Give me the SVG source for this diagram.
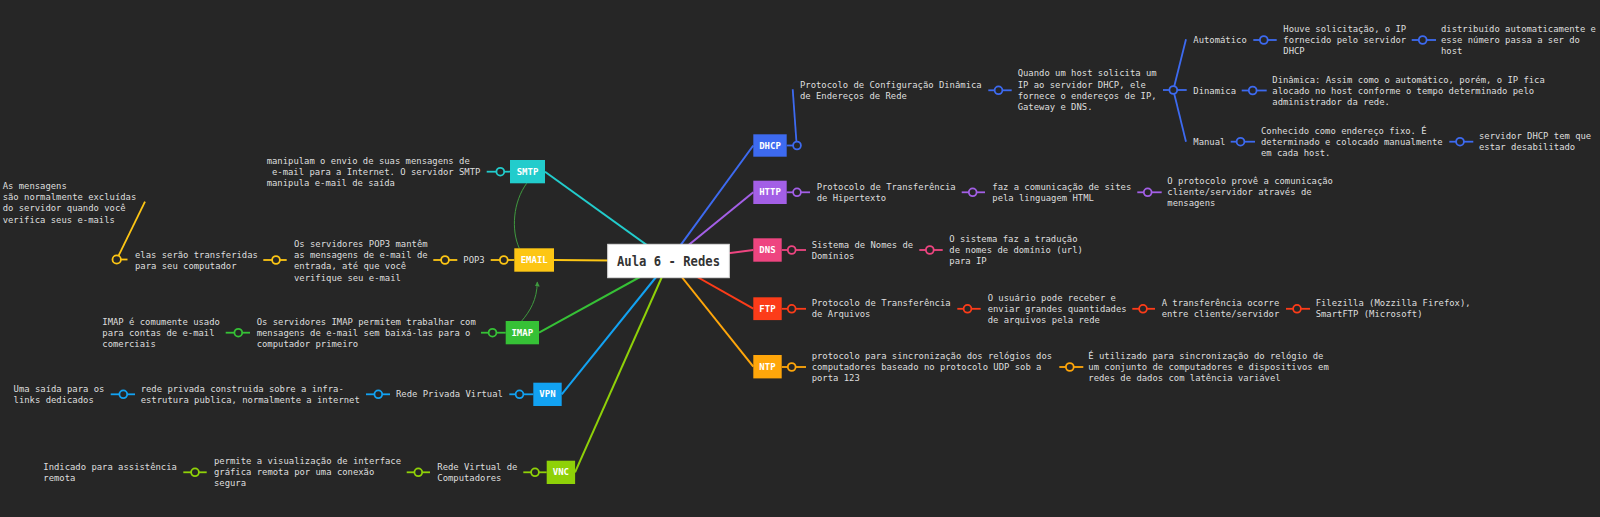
<svg xmlns="http://www.w3.org/2000/svg" width="1600" height="517" viewBox="0 0 1600 517">
<defs>
<style>
.t{font-family:"DejaVu Sans Mono","Liberation Mono",monospace;font-size:8.9px;fill:#dedede;dominant-baseline:central}
.b{font-family:"DejaVu Sans Mono","Liberation Mono",monospace;font-size:9px;font-weight:bold;fill:#ffffff;text-anchor:middle;dominant-baseline:central}
.m{stroke-width:2;fill:none}
.k line{stroke-width:1.8}
.k circle{fill:#262626;stroke-width:1.8}
.rel{stroke:#3f9a3f;stroke-width:1;fill:none}
.blue{stroke:#3d6af0}.purple{stroke:#a35fe6}.pink{stroke:#ee4580}.red{stroke:#fc3c19}.orange{stroke:#ffa60a}
.teal{stroke:#22cccc}.yellow{stroke:#fdc614}.green{stroke:#36c136}.sky{stroke:#12a2f2}.lime{stroke:#8fd108}
</style>
<marker id="arr" viewBox="0 0 10 10" refX="9" refY="5" markerWidth="5" markerHeight="5" orient="auto">
<path d="M0,0 L10,5 L0,10 z" fill="#3f9a3f"/>
</marker>
</defs>
<rect x="0" y="0" width="1600" height="517" fill="#262626"/>

<g id="connectors">
<line class="m blue" x1="669" y1="261" x2="753.3" y2="145.5"/>
<line class="m purple" x1="669" y1="261" x2="753.3" y2="192.3"/>
<line class="m pink" x1="669" y1="261" x2="753.3" y2="250"/>
<line class="m red" x1="669" y1="261" x2="753.3" y2="308.7"/>
<line class="m orange" x1="669" y1="261" x2="753.3" y2="366.7"/>
<line class="m teal" x1="669" y1="261" x2="545" y2="171.7"/>
<line class="m yellow" x1="669" y1="261" x2="554" y2="260"/>
<line class="m green" x1="669" y1="261" x2="539" y2="332.7"/>
<line class="m sky" x1="669" y1="261" x2="561.7" y2="394.3"/>
<line class="m lime" x1="669" y1="261" x2="575" y2="472.3"/>
<path class="rel" d="M526.7,183.3 C513,202 511,230 519.3,248.3"/>
<path class="rel" d="M521.7,321 C530,311 537,300 537.3,282" marker-end="url(#arr)"/>

<g class="k blue">
<line x1="786.7" y1="145.5" x2="796.7" y2="145.5"/>
<line x1="796.7" y1="145.5" x2="792.7" y2="89.3"/>
<circle cx="797" cy="145.5" r="3.9"/>
<line x1="988.3" y1="90.3" x2="1011.7" y2="90.3"/><circle cx="998.5" cy="90.3" r="3.9"/>
<line x1="1163" y1="90" x2="1186.7" y2="90"/>
<line x1="1173.3" y1="90" x2="1186" y2="39.3"/>
<line x1="1173.3" y1="90" x2="1186" y2="141.7"/>
<circle cx="1173.3" cy="90" r="3.9"/>
<line x1="1253.3" y1="40" x2="1276.7" y2="40"/><circle cx="1263.8" cy="40" r="3.9"/>
<line x1="1411.7" y1="40" x2="1436" y2="40"/><circle cx="1422.7" cy="40" r="3.9"/>
<line x1="1241.7" y1="90.5" x2="1266.7" y2="90.5"/><circle cx="1252.7" cy="90.5" r="3.9"/>
<line x1="1230.7" y1="141.7" x2="1255" y2="141.7"/><circle cx="1240.5" cy="141.7" r="3.9"/>
<line x1="1449.3" y1="141.7" x2="1473.3" y2="141.7"/><circle cx="1460" cy="141.7" r="3.9"/>
</g>
<g class="k purple">
<line x1="786.7" y1="192.3" x2="810" y2="192.3"/><circle cx="797" cy="192.3" r="3.9"/>
<line x1="961.7" y1="192.3" x2="985" y2="192.3"/><circle cx="972.7" cy="192.3" r="3.9"/>
<line x1="1137.3" y1="192.3" x2="1161.7" y2="192.3"/><circle cx="1147.7" cy="192.3" r="3.9"/>
</g>
<g class="k pink">
<line x1="781.7" y1="250" x2="806" y2="250"/><circle cx="791.7" cy="250" r="3.9"/>
<line x1="919.3" y1="250" x2="942.7" y2="250"/><circle cx="929.8" cy="250" r="3.9"/>
</g>
<g class="k red">
<line x1="781.7" y1="308.8" x2="806" y2="308.8"/><circle cx="791.7" cy="308.8" r="3.9"/>
<line x1="957.3" y1="308.8" x2="980.7" y2="308.8"/><circle cx="967.5" cy="308.8" r="3.9"/>
<line x1="1132.3" y1="308.8" x2="1155" y2="308.8"/><circle cx="1143" cy="308.8" r="3.9"/>
<line x1="1286" y1="308.8" x2="1310" y2="308.8"/><circle cx="1297" cy="308.8" r="3.9"/>
</g>
<g class="k orange">
<line x1="781.7" y1="367" x2="806" y2="367"/><circle cx="791.7" cy="367" r="3.9"/>
<line x1="1059.3" y1="367" x2="1083.3" y2="367"/><circle cx="1069.8" cy="367" r="3.9"/>
</g>
<g class="k teal">
<line x1="486.7" y1="171.7" x2="510" y2="171.7"/><circle cx="500.3" cy="171.7" r="3.9"/>
</g>
<g class="k yellow">
<line x1="490.7" y1="260" x2="514.3" y2="260"/><circle cx="503.8" cy="260" r="3.9"/>
<line x1="433.3" y1="260" x2="457.3" y2="260"/><circle cx="445" cy="260" r="3.9"/>
<line x1="263.3" y1="260" x2="286.7" y2="260"/><circle cx="276" cy="260" r="3.9"/>
<line x1="116.7" y1="259.5" x2="127.5" y2="259.5"/>
<line x1="116.7" y1="259.5" x2="145" y2="201.7"/>
<circle cx="116.7" cy="259.5" r="4.2"/>
</g>
<g class="k green">
<line x1="481" y1="332.7" x2="505.7" y2="332.7"/><circle cx="492.5" cy="332.7" r="3.9"/>
<line x1="225.7" y1="332.7" x2="250" y2="332.7"/><circle cx="238.3" cy="332.7" r="3.9"/>
</g>
<g class="k sky">
<line x1="509.3" y1="394.3" x2="533.3" y2="394.3"/><circle cx="519.5" cy="394.3" r="3.9"/>
<line x1="366" y1="394.3" x2="390" y2="394.3"/><circle cx="378.3" cy="394.3" r="3.9"/>
<line x1="110.7" y1="394.3" x2="135" y2="394.3"/><circle cx="123.3" cy="394.3" r="3.9"/>
</g>
<g class="k lime">
<line x1="523.3" y1="472.3" x2="546.7" y2="472.3"/><circle cx="535" cy="472.3" r="3.9"/>
<line x1="406.7" y1="472.3" x2="430" y2="472.3"/><circle cx="418.3" cy="472.3" r="3.9"/>
<line x1="183.3" y1="472.3" x2="206.7" y2="472.3"/><circle cx="195" cy="472.3" r="3.9"/>
</g>
</g>

<g id="root">
<rect x="607.7" y="244.3" width="121.6" height="33.4" fill="#ffffff" stroke="#dcdcdc" stroke-width="1"/>
<text x="668.5" y="261.5" font-family="DejaVu Sans Mono, Liberation Mono, monospace" font-size="13.3" font-weight="bold" fill="#333333" text-anchor="middle" dominant-baseline="central" textLength="103" lengthAdjust="spacingAndGlyphs">Aula 6 - Redes</text>
</g>

<g id="dhcp">
<rect x="753.3" y="134.3" width="33.4" height="22.4" fill="#3d6af0"/>
<text class="b" x="770" y="145.5">DHCP</text>
</g>
<g id="dhcp-1"><text class="t" x="800" y="85.3">Protocolo de Configuração Dinâmica</text><text class="t" x="800" y="96.3">de Endereços de Rede</text></g>
<g id="dhcp-2"><text class="t" x="1017.7" y="73.3">Quando um host solicita um</text><text class="t" x="1017.7" y="84.6">IP ao servidor DHCP, ele</text><text class="t" x="1017.7" y="95.9">fornece o endereços de IP,</text><text class="t" x="1017.7" y="107.2">Gateway e DNS.</text></g>
<g id="dhcp-auto"><text class="t" x="1193.3" y="40">Automático</text></g>
<g id="dhcp-auto-1"><text class="t" x="1283.3" y="29">Houve solicitação, o IP</text><text class="t" x="1283.3" y="40">fornecido pelo servidor</text><text class="t" x="1283.3" y="51">DHCP</text></g>
<g id="dhcp-auto-2"><text class="t" x="1441" y="29">distribuído automaticamente e</text><text class="t" x="1441" y="40">esse número passa a ser do</text><text class="t" x="1441" y="51">host</text></g>
<g id="dhcp-din"><text class="t" x="1193.3" y="90.5">Dinamica</text></g>
<g id="dhcp-din-1"><text class="t" x="1272.3" y="79.5">Dinâmica: Assim como o automático, porém, o IP fica</text><text class="t" x="1272.3" y="90.5">alocado no host conforme o tempo determinado pelo</text><text class="t" x="1272.3" y="101.5">administrador da rede.</text></g>
<g id="dhcp-man"><text class="t" x="1193.3" y="141.7">Manual</text></g>
<g id="dhcp-man-1"><text class="t" x="1261" y="130.7">Conhecido como endereço fixo. É</text><text class="t" x="1261" y="141.7">determinado e colocado manualmente</text><text class="t" x="1261" y="152.7">em cada host.</text></g>
<g id="dhcp-man-2"><text class="t" x="1479" y="136.2">servidor DHCP tem que</text><text class="t" x="1479" y="147.2">estar desabilitado</text></g>

<g id="http">
<rect x="753.3" y="180.7" width="33.4" height="23.3" fill="#a35fe6"/>
<text class="b" x="770" y="192.3">HTTP</text>
</g>
<g id="http-1"><text class="t" x="816.7" y="186.8">Protocolo de Transferência</text><text class="t" x="816.7" y="197.8">de Hipertexto</text></g>
<g id="http-2"><text class="t" x="992.3" y="186.8">faz a comunicação de sites</text><text class="t" x="992.3" y="197.8">pela linguagem HTML</text></g>
<g id="http-3"><text class="t" x="1167.3" y="181.3">O protocolo provê a comunicação</text><text class="t" x="1167.3" y="192.3">cliente/servidor através de</text><text class="t" x="1167.3" y="203.3">mensagens</text></g>

<g id="dns">
<rect x="753.3" y="238.3" width="28.4" height="23.4" fill="#ee4580"/>
<text class="b" x="767.5" y="250">DNS</text>
</g>
<g id="dns-1"><text class="t" x="811.7" y="244.5">Sistema de Nomes de</text><text class="t" x="811.7" y="255.5">Domínios</text></g>
<g id="dns-2"><text class="t" x="949.3" y="239">O sistema faz a tradução</text><text class="t" x="949.3" y="250">de nomes de domínio (url)</text><text class="t" x="949.3" y="261">para IP</text></g>

<g id="ftp">
<rect x="753.3" y="297.3" width="28.4" height="22.8" fill="#fc3c19"/>
<text class="b" x="767.5" y="308.8">FTP</text>
</g>
<g id="ftp-1"><text class="t" x="811.7" y="303.2">Protocolo de Transferência</text><text class="t" x="811.7" y="314.2">de Arquivos</text></g>
<g id="ftp-2"><text class="t" x="987.7" y="297.6">O usuário pode receber e</text><text class="t" x="987.7" y="308.7">enviar grandes quantidades</text><text class="t" x="987.7" y="319.8">de arquivos pela rede</text></g>
<g id="ftp-3"><text class="t" x="1161.7" y="303.2">A transferência ocorre</text><text class="t" x="1161.7" y="314.2">entre cliente/servidor</text></g>
<g id="ftp-4"><text class="t" x="1315.7" y="303.2">Filezilla (Mozzilla Firefox),</text><text class="t" x="1315.7" y="314.2">SmartFTP (Microsoft)</text></g>

<g id="ntp">
<rect x="753.3" y="355" width="28.4" height="23.4" fill="#ffa60a"/>
<text class="b" x="767.5" y="366.7">NTP</text>
</g>
<g id="ntp-1"><text class="t" x="811.7" y="356.3">protocolo para sincronização dos relógios dos</text><text class="t" x="811.7" y="367.3">computadores baseado no protocolo UDP sob a</text><text class="t" x="811.7" y="378.3">porta 123</text></g>
<g id="ntp-2"><text class="t" x="1088.3" y="356.3">É utilizado para sincronização do relógio de</text><text class="t" x="1088.3" y="367.3">um conjunto de computadores e dispositivos em</text><text class="t" x="1088.3" y="378.3">redes de dados com latência variável</text></g>

<g id="smtp">
<rect x="510" y="160" width="35" height="23.3" fill="#22cccc"/>
<text class="b" x="527.5" y="171.7">SMTP</text>
</g>
<g id="smtp-1"><text class="t" x="266.7" y="161">manipulam o envio de suas mensagens de</text><text class="t" x="272" y="172.2">e-mail para a Internet. O servidor SMTP</text><text class="t" x="266.7" y="183.4">manipula e-mail de saída</text></g>

<g id="email">
<rect x="514.3" y="248.3" width="39.7" height="23.4" fill="#fdc614"/>
<text class="b" x="534.2" y="260">EMAIL</text>
</g>
<g id="email-pop3"><text class="t" x="463.3" y="260">POP3</text></g>
<g id="email-pop3-1"><text class="t" x="294" y="244">Os servidores POP3 mantêm</text><text class="t" x="294" y="255.2">as mensagens de e-mail de</text><text class="t" x="294" y="266.4">entrada, até que você</text><text class="t" x="294" y="277.6">verifique seu e-mail</text></g>
<g id="email-pop3-2"><text class="t" x="135" y="254.5">elas serão transferidas</text><text class="t" x="135" y="265.5">para seu computador</text></g>
<g id="email-pop3-3"><text class="t" x="2.7" y="185.5">As mensagens</text><text class="t" x="2.7" y="196.9">são normalmente excluídas</text><text class="t" x="2.7" y="208.3">do servidor quando você</text><text class="t" x="2.7" y="219.7">verifica seus e-mails</text></g>

<g id="imap">
<rect x="505.7" y="321" width="33.3" height="23.3" fill="#36c136"/>
<text class="b" x="522.3" y="332.7">IMAP</text>
</g>
<g id="imap-1"><text class="t" x="256.7" y="321.7">Os servidores IMAP permitem trabalhar com</text><text class="t" x="256.7" y="332.7">mensagens de e-mail sem baixá-las para o</text><text class="t" x="256.7" y="343.7">computador primeiro</text></g>
<g id="imap-2"><text class="t" x="102.3" y="321.7">IMAP é comumente usado</text><text class="t" x="102.3" y="332.7">para contas de e-mail</text><text class="t" x="102.3" y="343.7">comerciais</text></g>

<g id="vpn">
<rect x="533.3" y="382.7" width="28.4" height="23.3" fill="#12a2f2"/>
<text class="b" x="547.5" y="394.3">VPN</text>
</g>
<g id="vpn-1"><text class="t" x="396" y="394.3">Rede Privada Virtual</text></g>
<g id="vpn-2"><text class="t" x="140.7" y="388.8">rede privada construida sobre a infra-</text><text class="t" x="140.7" y="399.8">estrutura publica, normalmente a internet</text></g>
<g id="vpn-3"><text class="t" x="13.6" y="388.8">Uma saída para os</text><text class="t" x="13.6" y="399.8">links dedicados</text></g>

<g id="vnc">
<rect x="546.7" y="460.7" width="28.4" height="23.3" fill="#8fd108"/>
<text class="b" x="560.9" y="472.3">VNC</text>
</g>
<g id="vnc-1"><text class="t" x="437.3" y="466.8">Rede Virtual de</text><text class="t" x="437.3" y="477.8">Computadores</text></g>
<g id="vnc-2"><text class="t" x="214" y="461.3">permite a visualização de interface</text><text class="t" x="214" y="472.3">gráfica remota por uma conexão</text><text class="t" x="214" y="483.3">segura</text></g>
<g id="vnc-3"><text class="t" x="43.3" y="466.8">Indicado para assistência</text><text class="t" x="43.3" y="477.8">remota</text></g>
</svg>
